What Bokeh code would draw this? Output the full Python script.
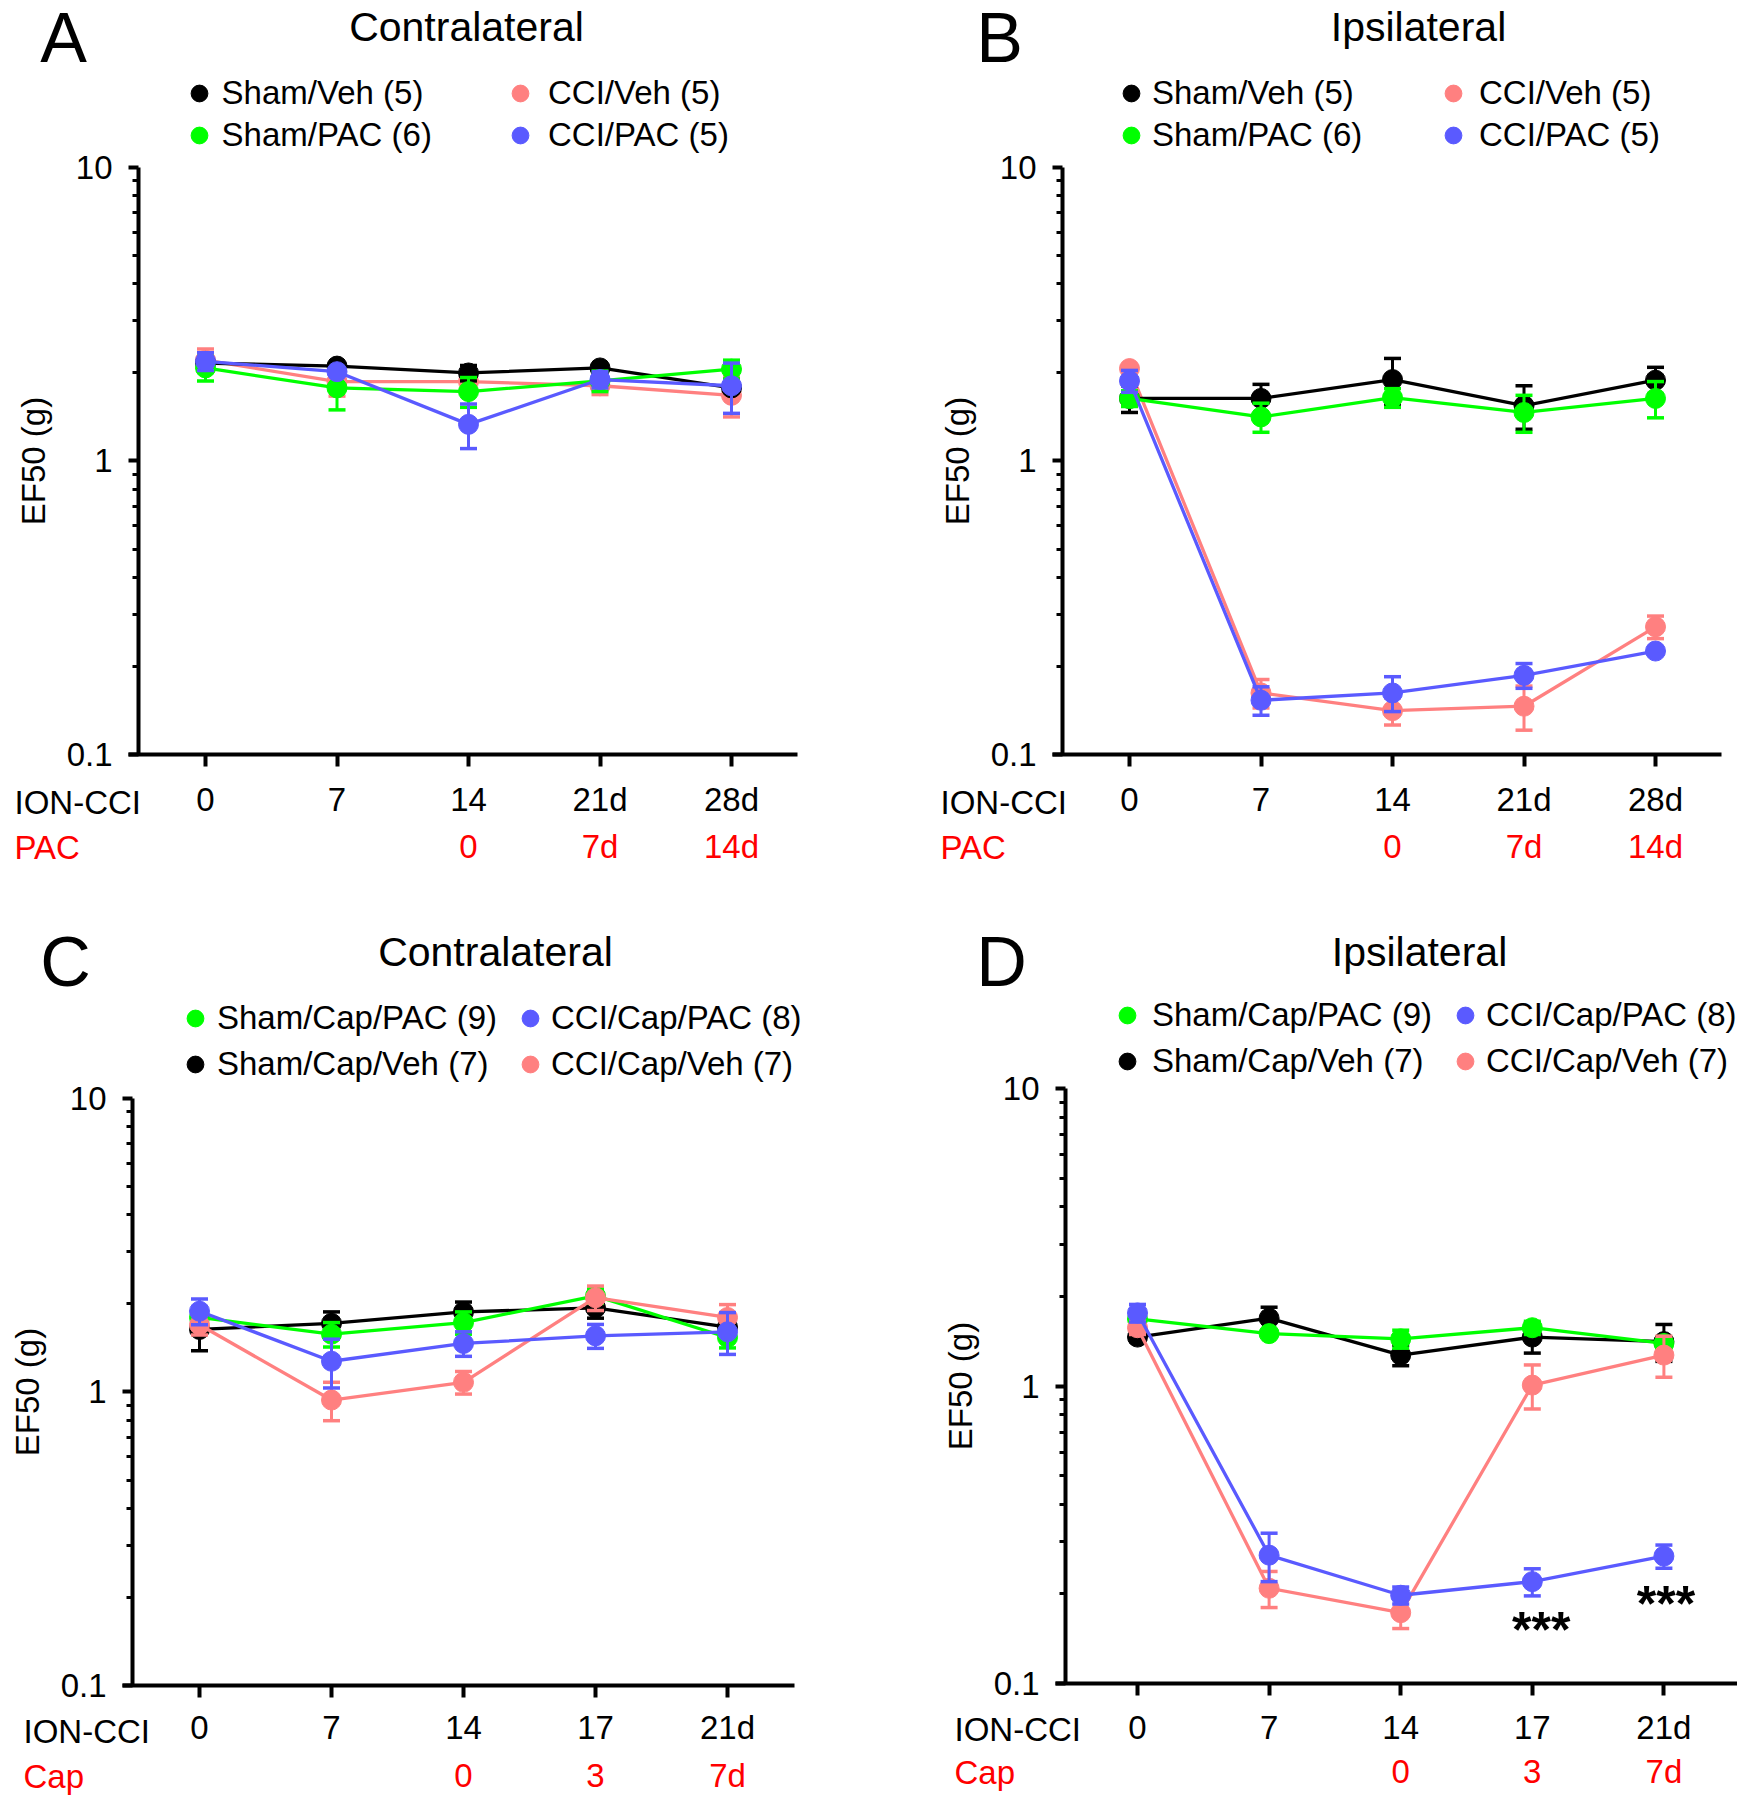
import math
from bokeh.plotting import figure
from bokeh.models import (Range1d, FixedTicker, LinearAxis, Label, Legend,
                          LegendItem, ColumnDataSource)
from bokeh.layouts import row, column
from bokeh.embed import file_html
from bokeh.resources import INLINE

FONT = "Liberation Sans"
BLACK = "#000000"
GREEN = "#00ff00"
PINK = "#ff8080"
BLUE = "#5a5aff"
RED = "#ff0000"

# ---------------- data ----------------
ab_days = ["0", "7", "14", "21d", "28d"]
ab_pac_days = ["", "", "0", "7d", "14d"]
cd_days = ["0", "7", "14", "17", "21d"]
cd_cap_days = ["", "", "0", "3", "7d"]

y_major = [0.1, 1, 10]
y_minor = [0.2, 0.3, 0.4, 0.5, 0.6, 0.7, 0.8, 0.9, 2, 3, 4, 5, 6, 7, 8, 9]

# Panel A - Contralateral (PAC)
a_sham_veh = [2.15, 2.10, 1.99, 2.07, 1.77]
a_sham_veh_sem = [0.08, 0.04, 0.12, 0.05, 0.05]
a_sham_pac = [2.07, 1.77, 1.72, 1.87, 2.05]
a_sham_pac_sem = [0.20, 0.28, 0.20, 0.15, 0.15]
a_cci_veh = [2.20, 1.86, 1.86, 1.80, 1.67]
a_cci_veh_sem = [0.20, 0.20, 0.17, 0.12, 0.26]
a_cci_pac = [2.18, 2.01, 1.33, 1.89, 1.80]
a_cci_pac_sem = [0.15, 0.05, 0.23, 0.12, 0.35]

# Panel B - Ipsilateral (PAC)
b_sham_veh = [1.63, 1.63, 1.89, 1.54, 1.88]
b_sham_veh_sem = [0.17, 0.19, 0.34, 0.26, 0.20]
b_sham_pac = [1.63, 1.41, 1.64, 1.46, 1.63]
b_sham_pac_sem = [0.10, 0.16, 0.12, 0.21, 0.23]
b_cci_veh = [2.06, 0.162, 0.141, 0.146, 0.272]
b_cci_veh_sem = [0.05, 0.018, 0.015, 0.025, 0.024]
b_cci_pac = [1.87, 0.153, 0.162, 0.186, 0.225]
b_cci_pac_sem = [0.16, 0.017, 0.022, 0.018, 0.005]

# Panel C - Contralateral (Cap)
c_sham_cap_pac = [1.79, 1.57, 1.72, 2.12, 1.53]
c_sham_cap_pac_sem = [0.10, 0.15, 0.15, 0.12, 0.12]
c_sham_cap_veh = [1.63, 1.71, 1.87, 1.93, 1.66]
c_sham_cap_veh_sem = [0.25, 0.16, 0.15, 0.15, 0.10]
c_cci_cap_veh = [1.69, 0.937, 1.077, 2.09, 1.79]
c_cci_cap_veh_sem = [0.13, 0.14, 0.095, 0.20, 0.19]
c_cci_cap_pac = [1.88, 1.27, 1.46, 1.55, 1.60]
c_cci_cap_pac_sem = [0.19, 0.24, 0.14, 0.145, 0.26]

# Panel D - Ipsilateral (Cap)
d_sham_cap_pac = [1.68, 1.50, 1.44, 1.57, 1.39]
d_sham_cap_pac_sem = [0.05, 0.04, 0.10, 0.08, 0.05]
d_sham_cap_veh = [1.46, 1.69, 1.27, 1.46, 1.41]
d_sham_cap_veh_sem = [0.05, 0.15, 0.10, 0.17, 0.20]
d_cci_cap_veh = [1.57, 0.209, 0.173, 1.007, 1.27]
d_cci_cap_veh_sem = [0.08, 0.029, 0.020, 0.17, 0.20]
d_cci_cap_pac = [1.76, 0.270, 0.198, 0.220, 0.268]
d_cci_cap_pac_sem = [0.12, 0.05, 0.013, 0.023, 0.024]
d_sig_index = [3, 4]  # CCI/Cap/PAC vs CCI/Cap/Veh
d_sig_text = "***"

# ---------------- helpers ----------------
TXT = "33px"


def draw_series(p, vals, sems, color):
    xs = list(range(len(vals)))
    src = ColumnDataSource(dict(
        x=xs, y=vals,
        lo=[v - s for v, s in zip(vals, sems)],
        hi=[v + s for v, s in zip(vals, sems)]))
    p.segment("x", "lo", "x", "hi", source=src, line_color=color, line_width=3)
    p.scatter("x", "lo", marker="dash", size=17, line_color=color, line_width=3.5, source=src)
    p.scatter("x", "hi", marker="dash", size=17, line_color=color, line_width=3.5, source=src)
    p.line("x", "y", source=src, line_color=color, line_width=3.3)
    return p.scatter("x", "y", size=20, fill_color=color, line_color=color, source=src)


def add_text(p, x, y, text, size=TXT, color=BLACK, align="left", baseline="middle",
             units="screen", style="normal"):
    p.add_layout(Label(x=x, y=y, x_units=units, y_units=units, text=text,
                       text_font=FONT, text_font_size=size, text_color=color,
                       text_align=align, text_baseline=baseline, text_font_style=style))


def add_legend(p, items, loc, standoff, spacing):
    leg = Legend(items=[LegendItem(label=t, renderers=[r]) for t, r in items],
                 location=loc, orientation="vertical",
                 glyph_width=42, glyph_height=42, label_height=42,
                 label_standoff=standoff, spacing=spacing, padding=0, margin=0,
                 border_line_color=None, background_fill_alpha=0,
                 label_text_font=FONT, label_text_font_size=TXT,
                 label_text_color=BLACK)
    p.add_layout(leg)


def make_panel(cfg):
    ox, oy, w, h = cfg["box"]
    x0, sp = cfg["xmap"]          # page px of day-index 0, px per index step
    y10, y01 = cfg["ymap"]        # page px of 10 and 0.1
    dec = (y01 - y10) / 2.0
    xr = ((ox - x0) / sp, (ox + w - x0) / sp)
    yr = (10 ** (1 - (oy + h - y10) / dec), 10 ** (1 + (y10 - oy) / dec))
    yaxis_x = (cfg["yaxis_px"] - x0) / sp
    xb = ((cfg["yaxis_px"] - 10 - x0) / sp, (cfg["xend_px"] - x0) / sp)

    p = figure(width=w, height=h, x_range=Range1d(*xr), y_range=Range1d(*yr),
               y_axis_type="log", output_backend="svg", toolbar_location=None,
               min_border=0, min_border_left=0, min_border_right=0,
               min_border_top=0, min_border_bottom=0)
    p.title.visible = False
    p.outline_line_color = None
    p.xgrid.visible = False
    p.ygrid.visible = False
    p.background_fill_color = "white"
    p.border_fill_color = "white"

    yax = p.yaxis[0]
    yax.fixed_location = yaxis_x
    yax.bounds = (0.1, 10)
    yax.ticker = FixedTicker(ticks=y_major, minor_ticks=y_minor)
    yax.major_label_overrides = {0.1: "0.1", 1: "1", 10: "10"}
    yax.axis_label = "EF50 (g)"
    yax.axis_label_text_font = FONT
    yax.axis_label_text_font_size = TXT
    yax.axis_label_text_font_style = "normal"
    yax.axis_label_text_color = BLACK
    yax.axis_label_standoff = 12
    yax.major_label_text_font = FONT
    yax.major_label_text_font_size = TXT
    yax.major_label_text_color = BLACK
    yax.major_label_standoff = 16
    yax.major_tick_out = 10
    yax.major_tick_in = 0
    yax.minor_tick_out = 6
    yax.minor_tick_in = 0
    yax.axis_line_width = 4
    yax.major_tick_line_width = 4
    yax.minor_tick_line_width = 3

    xax = p.xaxis[0]
    xax.fixed_location = 0.1
    xax.bounds = xb
    xax.ticker = FixedTicker(ticks=[0, 1, 2, 3, 4])
    xax.major_label_overrides = {i: t for i, t in enumerate(cfg["days"])}
    xax.major_label_text_font = FONT
    xax.major_label_text_font_size = TXT
    xax.major_label_text_color = BLACK
    xax.major_label_standoff = cfg["std"][0]
    xax.major_tick_out = 12
    xax.major_tick_in = 0
    xax.minor_tick_line_color = None
    xax.axis_line_width = 4
    xax.major_tick_line_width = 4

    ax2 = LinearAxis(ticker=FixedTicker(ticks=[0, 1, 2, 3, 4]),
                     major_label_overrides={i: t for i, t in enumerate(cfg["days2"])},
                     fixed_location=0.1, bounds=xb,
                     axis_line_color=None, major_tick_line_color=None,
                     minor_tick_line_color=None, major_tick_out=0, major_tick_in=0,
                     major_label_standoff=cfg["std"][1],
                     major_label_text_font=FONT, major_label_text_font_size=TXT,
                     major_label_text_color=RED)
    p.add_layout(ax2, "below")

    rends = {}
    for key in cfg["order"]:
        vals, sems, color = cfg["series"][key]
        rends[key] = draw_series(p, vals, sems, color)

    def rx(X):
        return X - ox

    def ry(Y):
        return oy + h - Y

    # legends: (items, page x of marker centre, standoff)
    r1, pitch = cfg["leg_rows"]
    spacing = pitch - 42
    box_bottom = r1 - 21 + 2 * 42 + spacing
    for items, mx, std in cfg["legends"]:
        add_legend(p, [(t, rends[k]) for t, k in items], (rx(mx - 21), ry(box_bottom)),
                   std, spacing)

    lx, ly = cfg["letter"]
    add_text(p, rx(lx), ry(ly), cfg["letter_text"], size="70px", align="center")
    tx, ty = cfg["title_pos"]
    add_text(p, rx(tx), ry(ty), cfg["title"], size="41px", align="center")
    rlx, r1y, r2y = cfg["rowlab"]
    add_text(p, rx(rlx), ry(r1y), "ION-CCI")
    add_text(p, rx(rlx), ry(r2y), cfg["row2"], color=RED)
    return p


panels = [
    dict(box=(0, 0, 870, 890), xmap=(205, 131.5), ymap=(166.5, 754),
         yaxis_px=138, xend_px=797, std=(14, 73),
         days=ab_days, days2=ab_pac_days,
         series=dict(sv=(a_sham_veh, a_sham_veh_sem, BLACK),
                     sp=(a_sham_pac, a_sham_pac_sem, GREEN),
                     cv=(a_cci_veh, a_cci_veh_sem, PINK),
                     cp=(a_cci_pac, a_cci_pac_sem, BLUE)),
         order=["cv", "sv", "sp", "cp"],
         leg_rows=(92.5, 42),
         legends=[([("Sham/Veh (5)", "sv"), ("Sham/PAC (6)", "sp")], 198.6, 2),
                  ([("CCI/Veh (5)", "cv"), ("CCI/PAC (5)", "cp")], 520, 7)],
         letter=(63, 37), letter_text="A", title_pos=(466, 26),
         title="Contralateral", rowlab=(14, 802, 847), row2="PAC"),
    dict(box=(870, 0, 867, 890), xmap=(1129, 131.5), ymap=(166.5, 754),
         yaxis_px=1062, xend_px=1721, std=(14, 73),
         days=ab_days, days2=ab_pac_days,
         series=dict(sv=(b_sham_veh, b_sham_veh_sem, BLACK),
                     sp=(b_sham_pac, b_sham_pac_sem, GREEN),
                     cv=(b_cci_veh, b_cci_veh_sem, PINK),
                     cp=(b_cci_pac, b_cci_pac_sem, BLUE)),
         order=["cv", "sv", "sp", "cp"],
         leg_rows=(92.5, 42),
         legends=[([("Sham/Veh (5)", "sv"), ("Sham/PAC (6)", "sp")], 1131, 0),
                  ([("CCI/Veh (5)", "cv"), ("CCI/PAC (5)", "cp")], 1453, 5)],
         letter=(999, 37), letter_text="B", title_pos=(1418, 26),
         title="Ipsilateral", rowlab=(940, 802, 847), row2="PAC"),
    dict(box=(0, 890, 870, 910), xmap=(199, 132), ymap=(1097.5, 1685),
         yaxis_px=132, xend_px=794, std=(11, 71),
         days=cd_days, days2=cd_cap_days,
         series=dict(sp=(c_sham_cap_pac, c_sham_cap_pac_sem, GREEN),
                     sv=(c_sham_cap_veh, c_sham_cap_veh_sem, BLACK),
                     cv=(c_cci_cap_veh, c_cci_cap_veh_sem, PINK),
                     cp=(c_cci_cap_pac, c_cci_cap_pac_sem, BLUE)),
         order=["sv", "sp", "cv", "cp"],
         leg_rows=(1017.5, 46),
         legends=[([("Sham/Cap/PAC (9)", "sp"), ("Sham/Cap/Veh (7)", "sv")], 195, 1),
                  ([("CCI/Cap/PAC (8)", "cp"), ("CCI/Cap/Veh (7)", "cv")], 530, -5)],
         letter=(65, 961), letter_text="C", title_pos=(495, 951),
         title="Contralateral", rowlab=(23, 1731, 1776), row2="Cap"),
    dict(box=(870, 890, 867, 910), xmap=(1137, 131.6), ymap=(1088, 1683),
         yaxis_px=1065, xend_px=1737, std=(13, 69),
         days=cd_days, days2=cd_cap_days,
         series=dict(sp=(d_sham_cap_pac, d_sham_cap_pac_sem, GREEN),
                     sv=(d_sham_cap_veh, d_sham_cap_veh_sem, BLACK),
                     cv=(d_cci_cap_veh, d_cci_cap_veh_sem, PINK),
                     cp=(d_cci_cap_pac, d_cci_cap_pac_sem, BLUE)),
         order=["sv", "sp", "cv", "cp"],
         leg_rows=(1015, 46),
         legends=[([("Sham/Cap/PAC (9)", "sp"), ("Sham/Cap/Veh (7)", "sv")], 1127, 4),
                  ([("CCI/Cap/PAC (8)", "cp"), ("CCI/Cap/Veh (7)", "cv")], 1465, -6)],
         letter=(1001, 961), letter_text="D", title_pos=(1419, 951),
         title="Ipsilateral", rowlab=(954, 1729, 1772), row2="Cap"),
]

figs = [make_panel(c) for c in panels]

# significance markers in D, just below the CCI/Cap/PAC points
pD = figs[3]
sig_dx = [9, 2]
for i, dx in zip(d_sig_index, sig_dx):
    pD.add_layout(Label(x=i, y=d_cci_cap_pac[i] / 1.45, x_units="data", y_units="data",
                        x_offset=dx,
                        text=d_sig_text, text_font=FONT, text_font_size="50px",
                        text_font_style="bold", text_align="center",
                        text_baseline="alphabetic", text_color=BLACK))

layout = column(row(figs[0], figs[1]), row(figs[2], figs[3]))
open("out.html", "w").write(file_html(layout, INLINE))
